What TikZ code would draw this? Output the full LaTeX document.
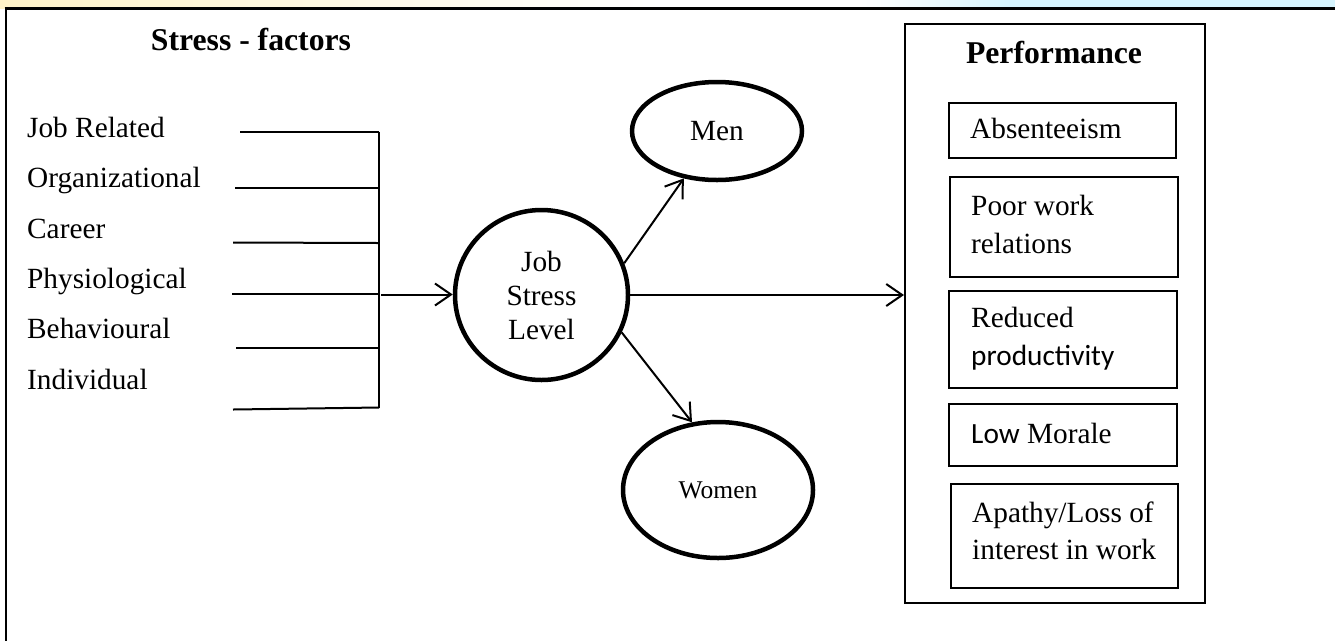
\documentclass[tikz,border=0pt]{standalone}
\usepackage{fontspec}
\setmainfont{Liberation Serif}
\newfontfamily\calfont{Carlito}
\usetikzlibrary{shapes.geometric,arrows.meta}
\definecolor{yellowband}{RGB}{255,243,200}
\definecolor{blueband}{RGB}{214,244,253}
\begin{document}
\begin{tikzpicture}[x=1pt,y=-1pt,
  txt/.style={font=\fontsize{29.3}{36}\selectfont, inner sep=0, anchor=base west},
  ctxt/.style={font=\fontsize{29.3}{34}\selectfont, inner sep=0, align=center},
  ttl/.style={font=\fontsize{31.7}{38}\selectfont\bfseries, inner sep=0, anchor=base},
  oval/.style={draw, ellipse, line width=4.5pt, inner sep=0},
  pbox/.style={draw, line width=2pt, rectangle, inner sep=0},
  fline/.style={line width=2pt},
  arr/.style={line width=2pt, -{Straight Barb[length=16pt,width=22pt]}},
]
\useasboundingbox (0,0) rectangle (1335,641);
% top colour band
\shade[left color=yellowband, right color=white] (0,0) rectangle (660,8);
\shade[left color=white, right color=blueband] (860,0) rectangle (1010,8);
\fill[blueband] (1010,0) rectangle (1335,8);
% outer frame (top and left)
\draw[line width=2.5pt] (4.5,8.5) -- (1335,8.5);
\draw[line width=2pt] (5.5,8) -- (5.5,641);

% title left
\node[ttl] (sf) at (251,50) {Stress - factors};

% factor labels
\node[txt] (jr) at (27,137) {Job Related};
\node[txt] (org) at (27,187.5) {Organizational};
\node[txt] (car) at (27,238) {Career};
\node[txt] (phy) at (27,288) {Physiological};
\node[txt] (beh) at (27,338.5) {Behavioural};
\node[txt] (ind) at (27,389) {Individual};

% bracket lines
\coordinate (l1a) at (240,131.5); \coordinate (l1b) at (379,131.5);
\coordinate (l2a) at (235,187.5); \coordinate (l2b) at (379,187.5);
\coordinate (l3a) at (233,242.5); \coordinate (l3b) at (379,243);
\coordinate (l4a) at (232,293.5); \coordinate (l4b) at (379,293.5);
\coordinate (l5a) at (236,347.5); \coordinate (l5b) at (379,347.5);
\coordinate (l6a) at (233,409.5); \coordinate (l6b) at (379,407.5);
\draw[fline] (l1a) -- (l1b);
\draw[fline] (l2a) -- (l2b);
\draw[fline] (l3a) -- (l3b);
\draw[fline] (l4a) -- (l4b);
\draw[fline] (l5a) -- (l5b);
\draw[fline] (l6a) -- (l6b);
\draw[fline] (l1b) -- (l6b);

% central circle and ellipses
\node[oval, ctxt, minimum width=173, minimum height=170] (jsl) at (541.5,295) {Job\\Stress\\Level};
\node[oval, font=\fontsize{29.3}{34}\selectfont, minimum width=170, minimum height=98] (men) at (717,131) {Men};
\node[oval, font=\fontsize{25.5}{30}\selectfont, minimum width=190, minimum height=136] (women) at (718,490) {Women};

% performance box
\node[pbox, minimum width=300, minimum height=579] (perf) at (1055,313.5) {};
\node[ttl] (perft) at (1054,63) {Performance};

\node[pbox, minimum width=227, minimum height=55] (abs) at (1062.5,130.5) {};
\node[pbox, minimum width=228, minimum height=100] (pwr) at (1064,227) {};
\node[pbox, minimum width=228, minimum height=97] (rp) at (1063,339.5) {};
\node[pbox, minimum width=228, minimum height=62] (lm) at (1063,435) {};
\node[pbox, minimum width=227, minimum height=104] (ap) at (1064.5,536) {};

\node[txt] (absT) at (970,138) {Absenteeism};
\node[txt] (pwrT1) at (971,215) {Poor work};
\node[txt] (pwrT2) at (971,253) {relations};
\node[txt] (rpT1) at (971,327) {Reduced};
\node[txt] (rpT2) at (971,365) {\calfont productivity};
\node[txt] (lmT) at (971,443) {{\calfont Low} Morale};
\node[txt] (apT1) at (972,522) {Apathy/Loss of};
\node[txt] (apT2) at (972,559) {interest in work};

% connectors
\coordinate (brk) at (381,294.5);
\draw[arr] (brk) -- (brk -| jsl.west);
\draw[arr] (jsl.21) -- (men.235);
\draw[arr] (jsl.335) -- (women.111);
\draw[arr] (jsl.east) -- (jsl.east -| perf.west);
\end{tikzpicture}
\end{document}
